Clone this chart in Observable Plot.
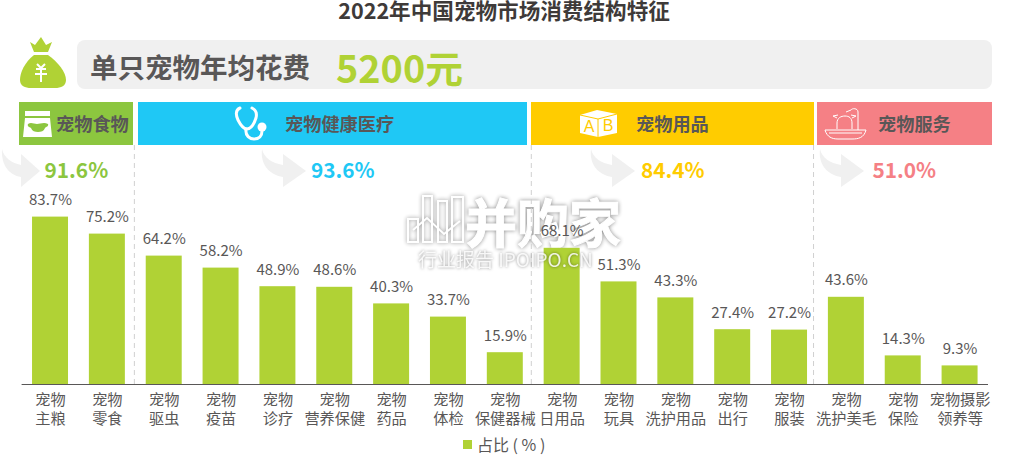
<!DOCTYPE html>
<html><head><meta charset="utf-8">
<script src="https://cdn.jsdelivr.net/npm/d3@7"></script>
<script src="https://cdn.jsdelivr.net/npm/@observablehq/plot@0.6"></script>
<style>
html,body{margin:0;padding:0;background:#fff;width:1028px;height:457px;overflow:hidden;font-family:"Noto Sans CJK SC",sans-serif}
.abs{position:absolute}
#chart{position:absolute;left:0;top:145px}
.hd{position:absolute;top:102px;height:43px;line-height:43px;font-weight:700;font-size:18.2px;color:#595757;white-space:nowrap}
</style></head><body>
<div class="abs" style="left:0;top:0;text-align:center;width:1008px;font-size:21.6px;font-weight:700;color:#3e3a39;line-height:20px">2022年中国宠物市场消费结构特征</div>
<div class="abs" style="left:77px;top:40px;width:915px;height:49px;border-radius:8px;background:#f0f0f0"></div>
<div class="abs" style="left:90px;top:46px;font-size:27.5px;font-weight:700;color:#595757;line-height:40px">单只宠物年均花费</div>
<div class="abs" style="left:336px;top:42px;font-size:37.8px;font-weight:700;color:#b0d235;line-height:50px">5200元</div>
<svg class="abs" style="left:0;top:0" width="1028" height="457" xmlns="http://www.w3.org/2000/svg">
 <g style="filter:drop-shadow(0 0 2px rgba(0,0,0,.5))" opacity=".9">
 <g fill="none" stroke="#fff" stroke-width="2"><path d="M408 242 V219 H418 V242 Z M423 242 V196 H432 V242 Z M438 242 V201 H447 V242 Z M452 242 V197 H463 V242 Z"/><path d="M413 230 L427 218 L444 234 L460 221"/></g>
 <text x="465" y="243" fill="#fff" stroke="#fff" stroke-width="1" font-size="52" font-weight="700" font-family="Noto Sans CJK SC">并购家</text>
 </g>
</svg>
<div id="chart"></div>
<div class="abs" style="left:463px;top:440px;width:9px;height:9px;background:#b0d235"></div>
<div class="abs" style="left:477px;top:433px;font-size:16px;color:#595757;line-height:22px">占比 ( % )</div>
<script>
const categories=["宠物\n主粮","宠物\n零食","宠物\n驱虫","宠物\n疫苗","宠物\n诊疗","宠物\n营养保健","宠物\n药品","宠物\n体检","宠物\n保健器械","宠物\n日用品","宠物\n玩具","宠物\n洗护用品","宠物\n出行","宠物\n服装","宠物\n洗护美毛","宠物\n保险","宠物摄影\n领养等"];
const shares=[83.7,75.2,64.2,58.2,48.9,48.6,40.3,33.7,15.9,68.1,51.3,43.3,27.4,27.2,43.6,14.3,9.3];
const groupNames=["宠物食物","宠物健康医疗","宠物用品","宠物服务"];
const groupShares=["91.6%","93.6%","84.4%","51.0%"];
const groupAnchors=["宠物\n零食","宠物\n营养保健","宠物\n洗护用品","宠物\n保险"];
const groupOffsets=[-31,8,-3,1];
const groupColors=["#8cc63f","#1fc8f5","#ffcc00","#f58085"];
const dividers=["宠物\n零食","宠物\n保健器械","宠物\n服装"];
const dividerOffsets=[27,26,24];
const table=categories.map((c,i)=>({c,v:shares[i]}));
const plot=Plot.plot({width:1028,height:285,marginLeft:21.6,marginRight:40,marginTop:0,marginBottom:46,
 style:{fontFamily:'"Noto Sans CJK SC",sans-serif',background:"transparent"},
 x:{domain:categories,paddingInner:0.367,paddingOuter:0.1835,round:false,label:null,axis:null},
 y:{domain:[0,119.5],axis:null},
 marks:[
  ...dividers.map((d,i)=>Plot.ruleX([d],{x:d=>d,stroke:"#d0d0d0",strokeDasharray:"5,4",dx:dividerOffsets[i]})),
  Plot.barY(table,{x:"c",y:"v",fill:"#b0d235"}),
  Plot.ruleY([0],{stroke:"#595757",strokeWidth:1.2}),
  Plot.text(table,{x:"c",y:"v",text:d=>d.v.toFixed(1)+"%",dy:-17,fill:"#595757",fontSize:15,lineAnchor:"middle"}),
  Plot.axisX({tickSize:0,tickPadding:8,fontSize:15.2,lineHeight:1.2,fill:"#595757",label:null}),
  ...groupShares.map((s,i)=>Plot.text([s],{x:()=>groupAnchors[i],frameAnchor:"top",dy:26,dx:groupOffsets[i],text:d=>d,fill:groupColors[i],fontSize:20.8,fontWeight:700,lineAnchor:"middle"}))
 ]});
document.getElementById("chart").appendChild(plot);
const heads=[[19,114],[138,389],[531,283],[817,175]];
const headText=[56,285,636,878];
groupNames.forEach((n,i)=>{
 const b=document.createElement("div");b.className="abs";
 b.style.cssText=`left:${heads[i][0]}px;top:102px;width:${heads[i][1]}px;height:43px;background:${groupColors[i]}`;
 document.body.insertBefore(b,document.getElementById("chart"));
 const t=document.createElement("div");t.className="hd";t.textContent=n;t.style.left=headText[i]+"px";
 document.body.insertBefore(t,document.getElementById("chart"));
});
</script>
<svg class="abs" style="left:0;top:0" width="1028" height="457" xmlns="http://www.w3.org/2000/svg">
 <!-- money bag -->
 <g fill="#b0d235"><path d="M30 42 L35 45 L41 37 L46 45 L52 42 L48 52 H34Z"/><path d="M34 55 H48 C58 62 66 72 66 80 C66 86 61 88 55 88 H31 C25 88 20 86 20 80 C20 72 25 62 34 55Z"/></g>
 <g stroke="#fff" stroke-width="2" fill="none"><path d="M37 64 L41 68 L45 64 M36 69 H46 M35 74 H47 M41 68 V82"/></g>
 <!-- bowl -->
 <path d="M25 111 H50 V116 H25Z M25 118 H50 L52 137 H23Z" fill="#fff"/>
 <path d="M28 124 C31 122 34 124 37 124 C40 124 44 122 48 124 C49 126 46 127 45 128 C44 131 41 132 38 132 C35 132 32 131 31 128 C29 127 27 126 28 124Z" fill="#8cc63f"/>
 <!-- stethoscope -->
 <g fill="none" stroke="#fff" stroke-width="3" stroke-linecap="round"><path d="M240 108 C235 110 236 116 238 120 C241 126 244 129 247 129 C251 129 254 124 256 118 C257 114 256 110 252 108"/><path d="M246 129 C245 136 250 139 254 139 C259 139 262 136 262 131"/></g><circle cx="262" cy="127" r="4.5" fill="#fff"/>
 <!-- blocks -->
 <path d="M580 115 L597 110 L617 114 V133 L598 137 L580 133Z" fill="#fff"/>
 <path d="M580 115 L598 119 L617 114 M598 119 V137" fill="none" stroke="#ffcc00" stroke-width="1"/>
 <text x="589" y="132" font-size="16" fill="#ffcc00" text-anchor="middle" font-family="Liberation Sans">A</text><text x="608" y="131" font-size="16" fill="#ffcc00" text-anchor="middle" font-family="Liberation Sans">B</text>
 <!-- bath -->
 <g fill="none" stroke="#fff" stroke-width="1"><path d="M825 130 H866 C864 138 858 139 852 139 H838 C832 139 827 137 825 130Z"/><path d="M829 133 H862"/><path d="M837 129 V123 C837 118 841 116 845 116 C849 116 852 118 852 123 V129"/><path d="M837 118 L833 116 L838 115 M852 118 L856 116 L851 115"/><path d="M858 130 V112 C858 108 852 108 851 110 L846 112"/></g>
 <!-- arrows -->
 <g fill="#f0f0f0">
 <path d="M2 149 C4 158 12 163 21 165 V154 L40 171 L21 187 V177 C9 175 1 165 2 149Z"/>
 <path id="a" d="M262 149 C264 158 272 163 283 165 V154 L306 171 L283 187 V177 C270 175 260 165 262 149Z"/>
 <use href="#a" x="329"/><use href="#a" x="558"/>
 </g>
 <!-- watermark subtitle -->
 <text x="418" y="267" fill="#fff" fill-opacity=".85" font-size="19" font-family="Noto Sans CJK SC" style="filter:drop-shadow(0 0 1.5px rgba(0,0,0,.5))">行业报告 IPOIPO.CN</text>
</svg>
</body></html>
